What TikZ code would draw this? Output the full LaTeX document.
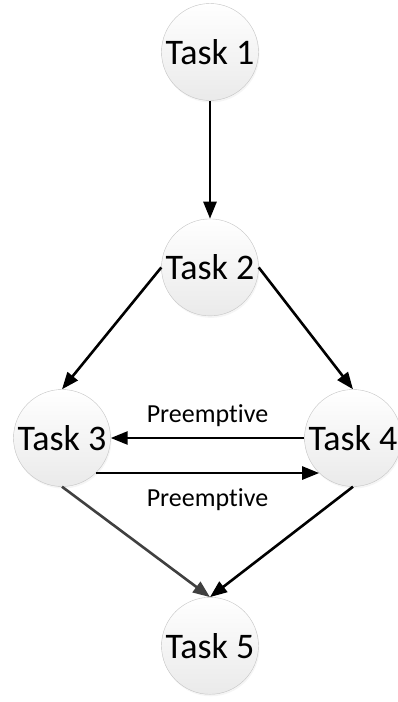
\documentclass[tikz,border=0pt]{standalone}
\usepackage{fontspec}
\setmainfont{Carlito}[Ligatures={NoCommon,NoRequired}]
\usetikzlibrary{arrows.meta,positioning,shadows}
\definecolor{taskedge}{RGB}{196,196,196}
\definecolor{taskfill}{RGB}{234,234,234}
\definecolor{linegray}{RGB}{64,64,64}
\tikzset{
  task/.style={draw=taskedge,circle,minimum size=97pt,inner sep=0pt,top color=white,bottom color=taskfill,
    drop shadow={opacity=0.08,shadow xshift=1pt,shadow yshift=-2pt},font=\fontsize{36}{42}\selectfont},
  arrow/.style={-{Triangle[length=17pt,width=13pt]},line width=2.6pt},
  preemptlabel/.style={inner sep=0pt,font=\fontsize{26}{30}\selectfont}
}

\begin{document}
\begin{tikzpicture}[x=1pt,y=-1pt]
\useasboundingbox (0,0) rectangle (397,702);
\node[task] (t1) at (210,52) {Task 1};
\node[task,below=118pt of t1] (t2) {Task 2};
\node[task] (t3) at (62,438) {Task 3};
\node[task] (t4) at (353,438) {Task 4};
\node[task,below=281pt of t2] (t5) {Task 5};
\draw[arrow] (t1) -- (t2);
\draw[arrow] (t2.west) -- (t3.north);
\draw[arrow] (t2.east) -- (t4.north);
\draw[arrow] (t4.west) -- node[preemptlabel,above=10pt] {Preemptive} (t3.east);
\draw[arrow] (t3.-46) -- node[preemptlabel,below=14pt] {Preemptive} (t4.-134);
\draw[arrow,linegray] (t3.south) -- (t5.north);
\draw[arrow] (t4.south) -- (t5.north);
\end{tikzpicture}
\end{document}
